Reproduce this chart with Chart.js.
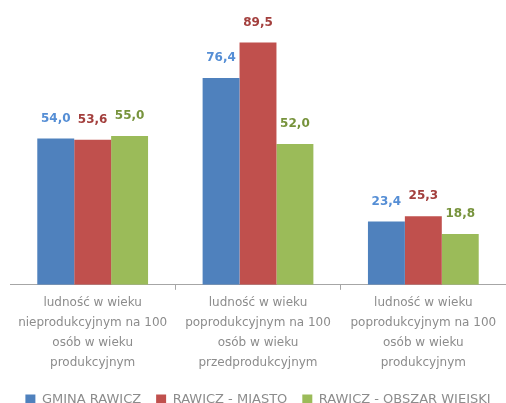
<!DOCTYPE html>
<html>
<head>
<meta charset="utf-8">
<script src="https://cdn.jsdelivr.net/npm/chart.js@4/dist/chart.umd.min.js"></script>
<style>
    html, body { margin: 0; padding: 0; background: #fff; overflow: hidden; }
    #wrap { width: 506px; height: 416px; position: relative; }
</style>
</head>
<body>
<div id="wrap"><canvas id="chart.area"></canvas></div>
<script>
const categories = [
    ['ludność w wieku', 'nieprodukcyjnym na 100', 'osób w wieku', 'produkcyjnym'],
    ['ludność w wieku', 'poprodukcyjnym na 100', 'osób w wieku', 'przedprodukcyjnym'],
    ['ludność w wieku', 'poprodukcyjnym na 100', 'osób w wieku', 'produkcyjnym']
];
const gminaRawicz = [54.0, 76.4, 23.4];
const rawiczMiasto = [53.6, 89.5, 25.3];
const rawiczObszarWiejski = [55.0, 52.0, 18.8];

const labelColors = ['#558ed5', '#a33f3d', '#77933c'];

// value labels above the bars, polish decimal comma
const valueLabels = {
    id: 'valueLabels',
    afterDatasetsDraw(chart) {
        const ctx = chart.ctx;
        ctx.save();
        ctx.font = 'bold 12px "DejaVu Sans"';
        ctx.textAlign = 'center';
        ctx.textBaseline = 'middle';
        chart.data.datasets.forEach((ds, i) => {
            const meta = chart.getDatasetMeta(i);
            ctx.fillStyle = labelColors[i];
            meta.data.forEach((bar, z) => {
                ctx.fillText(ds.data[z].toFixed(1).replace('.', ','), bar.x, bar.y - 20);
            });
        });
        ctx.restore();
    }
};

const config = {
    type: 'bar',
    data: {
        labels: categories,
        datasets: [
            { label: 'GMINA RAWICZ', data: gminaRawicz, backgroundColor: '#4f81bd' },
            { label: 'RAWICZ - MIASTO', data: rawiczMiasto, backgroundColor: '#c0504d' },
            { label: 'RAWICZ - OBSZAR WIEJSKI', data: rawiczObszarWiejski, backgroundColor: '#9bbb59' }
        ]
    },
    options: {
        responsive: true,
        maintainAspectRatio: false,
        animation: false,
        datasets: {
            bar: { categoryPercentage: 0.67, barPercentage: 1.0 }
        },
        layout: { padding: { left: 10, top: 14, right: 0, bottom: 0 } },
        plugins: {
            tooltip: { enabled: false },
            legend: {
                position: 'bottom',
                labels: {
                    boxWidth: 10,
                    boxHeight: 10,
                    padding: 15,
                    color: '#8c8c8c',
                    font: { family: 'DejaVu Sans', size: 13 }
                }
            }
        },
        scales: {
            x: {
                afterFit: (scale) => { scale.height += 2; },
                grid: {
                    offset: true,
                    drawOnChartArea: false,
                    tickLength: 5,
                    color: (c) => (c.index === 0 || c.index === 3) ? 'rgba(0,0,0,0)' : '#a6a6a6'
                },
                border: { color: '#a6a6a6' },
                ticks: {
                    padding: 3,
                    color: '#8c8c8c',
                    maxRotation: 0,
                    autoSkip: false,
                    font: { family: 'DejaVu Sans', size: 12, lineHeight: 1.67 }
                }
            },
            y: {
                display: false,
                min: 0,
                max: 100
            }
        }
    },
    plugins: [valueLabels]
};
const chart = new Chart(document.getElementById('chart.area'), config);
</script>
</body>
</html>
